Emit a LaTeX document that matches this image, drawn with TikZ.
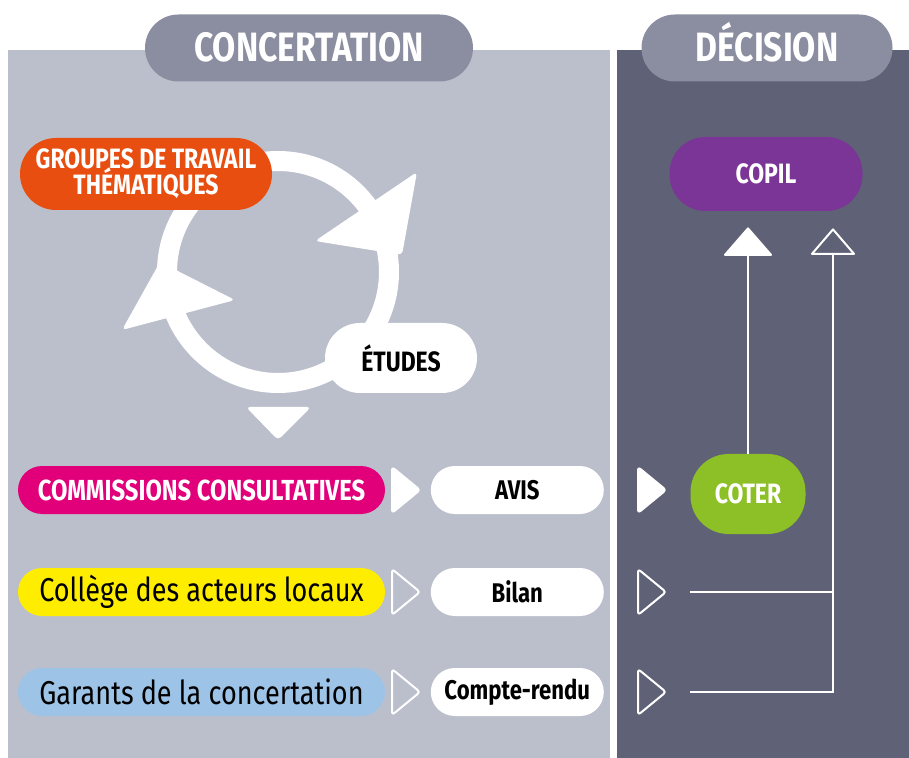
\documentclass[tikz,border=0pt]{standalone}
\usepackage{fontspec}
\setmainfont{Fira Sans}[FakeStretch=0.82]
\usetikzlibrary{arrows.meta,positioning}

\definecolor{panelclair}{HTML}{BBBFCC}
\definecolor{panelfonce}{HTML}{5F6176}
\definecolor{entete}{HTML}{8B8DA0}
\definecolor{orange}{HTML}{E84E0F}
\definecolor{violet}{HTML}{7A3596}
\definecolor{magenta}{HTML}{E2007A}
\definecolor{jaune}{HTML}{FFED00}
\definecolor{bleu}{HTML}{9DC3E6}
\definecolor{vert}{HTML}{8CC026}

\begin{document}
\begin{tikzpicture}[x=0.5pt,y=-0.5pt,
    pill/.style={rectangle, rounded corners=12pt, minimum height=24pt, inner sep=0pt, align=center},
    titre/.style={pill, fill=entete, text=white, minimum width=164pt, minimum height=33.5pt,
                  rounded corners=16.75pt, text height=14pt, text depth=0pt,
                  font=\fontsize{20.5}{24}\selectfont\bfseries},
    acteur/.style={pill, minimum width=183.5pt},
    produit/.style={pill, fill=white, minimum width=86.5pt, font=\fontsize{13.5}{15}\selectfont\bfseries},
    instance/.style={pill, text=white, minimum height=37pt, rounded corners=18pt,
                     font=\fontsize{14}{16}\selectfont\bfseries},
    fleche/.style={white, line width=1pt, line join=round, rounded corners=1.5pt},
    lien/.style={white, line width=1pt}]
  \useasboundingbox (0,0) rectangle (909,758);

  % fonds
  \fill[panelclair] (8,50) rectangle (610,758);
  \fill[panelfonce] (617,50) rectangle (909,758);

  \node[titre] (concert) at (309,48) {CONCERTATION};
  \node[titre, minimum width=125.5pt] (decision) at (767,48) {DÉCISION};

  % cycle
  \draw[white, line width=10pt] (278,272) circle [radius=111];
  \fill[white, rounded corners=2pt] (417,172) -- (315,241) -- (402,255) -- cycle;
  \fill[white, rounded corners=2pt] (160,262) -- (235,300) -- (122,330) -- cycle;
  \fill[white, rounded corners=2pt] (246,407) -- (311,407) -- (278,440) -- cycle;

  \node[instance, fill=orange, minimum width=126pt, minimum height=36pt] (groupes) at (146,174)
       {GROUPES DE TRAVAIL\\[-3pt]THÉMATIQUES};
  \node[pill, fill=white, minimum width=76pt, minimum height=35pt, rounded corners=17.5pt,
        font=\fontsize{14}{16}\selectfont\bfseries] (etudes) at (401,358) {ÉTUDES};

  % acteurs et produits
  \node[acteur, fill=magenta, text=white, font=\fontsize{14.5}{16}\selectfont\bfseries]
       (commissions) at (201.5,490) {COMMISSIONS CONSULTATIVES};
  \node[acteur, fill=jaune, font=\fontsize{16.5}{19}\selectfont]
       (college) at (201.5,592) {Collège des acteurs locaux};
  \node[acteur, fill=bleu, font=\fontsize{16.5}{19}\selectfont]
       (garants) at (201.5,692) {Garants de la concertation};

  \node[produit, right=22.5pt of commissions] (avis) {AVIS};
  \node[produit, right=22.5pt of college] (bilan) {Bilan};
  \node[produit, right=22.5pt of garants] (compte) {Compte-rendu};

  \foreach \y/\rempli in {490/white, 592/none, 692/none} {
    \draw[fleche, fill=\rempli] (392,\y-23) -- (420,\y) -- (392,\y+23) -- cycle;
    \draw[fleche, fill=\rempli] (638,\y-23) -- (666,\y) -- (638,\y+23) -- cycle;
  }

  % decision
  \node[instance, fill=violet, minimum width=96.5pt] (copil) at (766,174) {COPIL};
  \node[instance, fill=vert, minimum width=57.5pt, minimum height=40pt, rounded corners=19pt]
       (coter) at (748,494) {COTER};

  \coordinate (bilanfin) at (690,592);
  \coordinate (comptefin) at (690,692);
  \coordinate (coin) at (833,692);

  \draw[lien, -{Triangle[width=25pt, length=14.5pt, round]}, shorten >=8pt]
       (coter.north) -- (coter |- copil.south);
  \draw[lien, -{Triangle[open, width=23pt, length=13.5pt, round]}, shorten >=8.5pt]
       (comptefin) -- (coin) -- (coin |- copil.south);
  \draw[lien] (bilanfin) -- (bilanfin -| coin);
\end{tikzpicture}
\end{document}
